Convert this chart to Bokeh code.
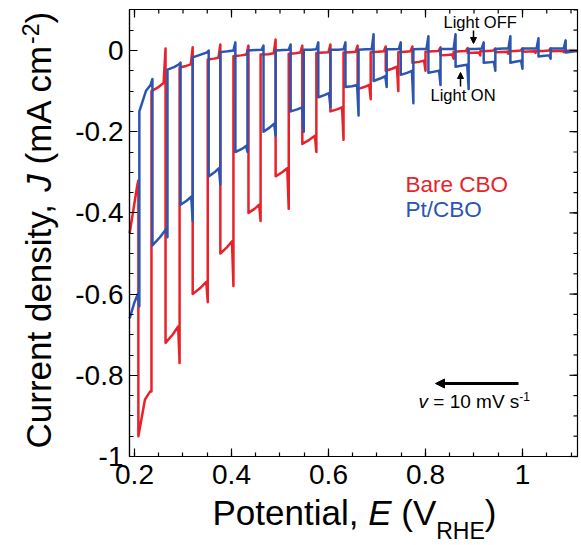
from math import pi
from bokeh.plotting import figure
from bokeh.models import (Range1d, LinearAxis, FixedTicker, Label, Arrow,
                          NormalHead, CustomJSTickFormatter)
from bokeh.embed import file_html
from bokeh.resources import INLINE

# ---------------- data ----------------
box_x = [0.1897, 1.1134]          # visible E range (V_RHE)
box_y = [-1.0, 0.101]             # visible J range (mA cm-2)
x_major = [0.2, 0.4, 0.6, 0.8, 1.0]
x_minor = [0.2, 0.25, 0.3, 0.35, 0.4, 0.45, 0.5, 0.55, 0.6, 0.65, 0.7, 0.75,
           0.8, 0.85, 0.9, 0.95, 1.0, 1.05, 1.1]
y_major = [-1.0, -0.8, -0.6, -0.4, -0.2, 0.0]
y_minor = [-1.0, -0.95, -0.9, -0.85, -0.8, -0.75, -0.7, -0.65, -0.6, -0.55,
           -0.5, -0.45, -0.4, -0.35, -0.3, -0.25, -0.2, -0.15, -0.1, -0.05,
           0.0, 0.05, 0.1]

# Bare CBO (red): chopped-light pulses (E in V_RHE, J in mA cm-2)
red_head_E = [0.190, 0.206]
red_head_J = [-0.45, -0.33]
red_E_left = [0.208, 0.264, 0.320, 0.377, 0.435, 0.491, 0.546, 0.604, 0.660,
              0.718, 0.773, 0.831, 0.887, 0.944, 1.000, 1.058]
red_E_right = [0.235, 0.293, 0.351, 0.404, 0.460, 0.518, 0.575, 0.631, 0.687,
               0.744, 0.800, 0.858, 0.913, 0.971, 1.027, 1.085]
red_J_over = [-0.32, 0.005, 0.008, 0.015, 0.012, 0.027, 0.012, 0.015, 0.012,
              0.010, 0.010, 0.008, 0.006, 0.005, 0.005, 0.005]
red_J_left = [-0.95, -0.72, -0.60, -0.50, -0.40, -0.31, -0.23, -0.15, -0.095,
              -0.050, -0.030, -0.012, -0.006, -0.004, -0.003, -0.002]
red_J_mid = [-0.86, -0.70, -0.585, -0.485, -0.39, -0.30, -0.22, -0.145, -0.09,
             -0.045, -0.028, -0.011, -0.0055, -0.0035, -0.0025, -0.0015]
red_J_right = [-0.84, -0.68, -0.57, -0.47, -0.38, -0.29, -0.21, -0.14, -0.085,
               -0.040, -0.025, -0.010, -0.005, -0.003, -0.002, -0.001]
red_J_spike = [-0.84, -0.77, -0.62, -0.58, -0.42, -0.39, -0.25, -0.22, -0.12,
               -0.10, -0.05, -0.02, -0.012, -0.008, -0.006, -0.004]
red_dark_lo = [-0.10, -0.042, -0.022, -0.014, -0.010, -0.008, -0.006, -0.005,
               -0.004, -0.004, -0.003, -0.003, -0.002, -0.002, -0.001, -0.001]
red_dark_mid = [-0.09, -0.038, -0.020, -0.012, -0.009, -0.007, -0.005, -0.004,
                -0.003, -0.003, -0.002, -0.002, -0.001, -0.001, -0.001, 0.0]
red_dark_hi = [-0.08, -0.034, -0.018, -0.010, -0.007, -0.005, -0.004, -0.003,
               -0.002, -0.002, -0.001, -0.001, 0.0, 0.0, 0.0, 0.0]

# Pt/CBO (blue)
blue_head_E = []
blue_head_J = []
blue_E_left = [0.190, 0.237, 0.295, 0.353, 0.408, 0.466, 0.522, 0.579, 0.635,
               0.693, 0.749, 0.806, 0.862, 0.920, 0.975, 1.033, 1.089]
blue_E_right = [0.210, 0.268, 0.320, 0.377, 0.433, 0.491, 0.549, 0.604, 0.662,
                0.720, 0.775, 0.831, 0.889, 0.944, 1.000, 1.058, 1.130]
blue_J_over = [-0.66, -0.07, -0.03, 0.0, 0.020, 0.012, 0.015, 0.020, 0.020,
               0.040, 0.020, 0.035, 0.040, 0.020, 0.035, 0.030, 0.025]
blue_J_left = [-0.66, -0.48, -0.38, -0.31, -0.25, -0.20, -0.15, -0.115, -0.090,
               -0.075, -0.060, -0.055, -0.040, -0.030, -0.030, -0.015, -0.005]
blue_J_mid = [-0.62, -0.46, -0.37, -0.30, -0.243, -0.19, -0.145, -0.11, -0.088,
              -0.069, -0.055, -0.052, -0.037, -0.029, -0.027, -0.013, -0.002]
blue_J_right = [-0.60, -0.44, -0.36, -0.29, -0.235, -0.18, -0.14, -0.105, -0.085,
                -0.063, -0.050, -0.050, -0.035, -0.028, -0.025, -0.012, 0.0]
blue_J_spike = [-0.63, -0.46, -0.42, -0.33, -0.25, -0.21, -0.20, -0.14, -0.16,
                -0.09, -0.13, -0.085, -0.095, -0.05, -0.045, -0.02, 0.0]
blue_dark_lo = [-0.15, -0.047, -0.017, -0.004, 0.0, 0.0, 0.002, 0.002, 0.002,
                0.003, 0.003, 0.004, 0.004, 0.004, 0.005, 0.005, 0.005]
blue_dark_mid = [-0.10, -0.041, -0.010, -0.002, 0.001, 0.001, 0.002, 0.002,
                 0.003, 0.003, 0.004, 0.004, 0.004, 0.005, 0.005, 0.005, 0.005]
blue_dark_hi = [-0.085, -0.035, -0.005, 0.0, 0.002, 0.002, 0.003, 0.003, 0.003,
                0.004, 0.004, 0.004, 0.005, 0.005, 0.005, 0.005, 0.005]

RED = "#E8222A"
BLUE = "#2C55B1"
FONT = "Liberation Sans"

# ---------------- layout (canvas pixels) ----------------
W, H = 581, 545
BOX_L, BOX_R, BOX_T, BOX_B = 129, 577, 9, 456
ux = (box_x[1] - box_x[0]) / (BOX_R - BOX_L)     # data units per pixel
uy = (box_y[1] - box_y[0]) / (BOX_B - BOX_T)
x_rng = (box_x[0] - BOX_L * ux, box_x[1] + (W - BOX_R) * ux)
y_rng = (box_y[0] - (H - BOX_B) * uy, box_y[1] + BOX_T * uy)


def chop_path(head_E, head_J, E_left, E_right, J_over, J_left, J_mid, J_right,
              J_spike, dark_lo, dark_mid, dark_hi, x_stop):
    xs, ys = list(head_E), list(head_J)
    n = len(E_left)
    for k in range(n):
        xs += [E_left[k], E_left[k]]
        ys += [J_over[k], J_left[k]]
        xs += [0.5 * (E_left[k] + E_right[k]), E_right[k] - 0.003,
               E_right[k], E_right[k]]
        ys += [J_mid[k], J_right[k], J_spike[k], dark_lo[k]]
        nxt = E_left[k + 1] if k + 1 < n else x_stop
        end = nxt - 0.004 if k + 1 < n else x_stop
        xs += [0.5 * (E_right[k] + nxt), end]
        ys += [dark_mid[k], dark_hi[k]]
    return xs, ys


def clip_right(xs, ys, xmax):
    ox, oy = [xs[0]], [ys[0]]
    for i in range(1, len(xs)):
        if xs[i] <= xmax:
            ox.append(xs[i])
            oy.append(ys[i])
        else:
            x0, y0 = xs[i - 1], ys[i - 1]
            t = (xmax - x0) / (xs[i] - x0)
            ox.append(xmax)
            oy.append(y0 + t * (ys[i] - y0))
            break
    return ox, oy


p = figure(width=W, height=H, output_backend="svg", toolbar_location=None,
           x_range=Range1d(*x_rng), y_range=Range1d(*y_rng),
           x_axis_location=None, y_axis_location=None,
           min_border=0, min_border_left=0, min_border_right=0,
           min_border_top=0, min_border_bottom=0)
p.grid.visible = False
p.outline_line_color = None
p.background_fill_color = "white"
p.border_fill_color = "white"

rx, ry = chop_path(red_head_E, red_head_J, red_E_left, red_E_right, red_J_over,
                   red_J_left, red_J_mid, red_J_right, red_J_spike,
                   red_dark_lo, red_dark_mid, red_dark_hi, box_x[1])
bx, by = chop_path(blue_head_E, blue_head_J, blue_E_left, blue_E_right,
                   blue_J_over, blue_J_left, blue_J_mid, blue_J_right,
                   blue_J_spike, blue_dark_lo, blue_dark_mid, blue_dark_hi, 1.14)
rx, ry = clip_right(rx, ry, box_x[1])
bx, by = clip_right(bx, by, box_x[1])
p.line(rx, ry, line_color=RED, line_width=2.5, line_join="round")
p.line(bx, by, line_color=BLUE, line_width=2.5, line_join="round")

# plot box
p.quad(left=[box_x[0]], right=[box_x[1]], bottom=[box_y[0]], top=[box_y[1]],
       fill_color=None, line_color="black", line_width=1.2)

fmt = CustomJSTickFormatter(code="return tick.toFixed(1).replace(/\\.0$/, '');")


def style_axis(ax, major, minor, standoff):
    ax.ticker = FixedTicker(ticks=major, minor_ticks=minor)
    ax.major_tick_in = 8
    ax.major_tick_out = 0
    ax.minor_tick_in = 4
    ax.minor_tick_out = 0
    ax.axis_line_color = "black"
    ax.axis_line_width = 1.2
    ax.major_tick_line_width = 1.2
    ax.minor_tick_line_width = 1.2
    ax.major_tick_line_color = "black"
    ax.minor_tick_line_color = "black"
    ax.formatter = fmt
    ax.major_label_text_font = FONT
    ax.major_label_text_font_size = "28px"
    ax.major_label_text_color = "black"
    ax.major_label_standoff = standoff


xa = LinearAxis(fixed_location=box_y[0], bounds=tuple(box_x))
ya = LinearAxis(fixed_location=box_x[0], bounds=tuple(box_y))
style_axis(xa, x_major, x_minor, 8)
style_axis(ya, y_major, y_minor, 6)
p.add_layout(xa, "below")
p.add_layout(ya, "left")

# mirrored inward ticks on top and right edges
top_x = x_minor + x_major
top_len = [4 * uy] * len(x_minor) + [8 * uy] * len(x_major)
p.segment(x0=top_x, x1=top_x, y0=[box_y[1]] * len(top_x),
          y1=[box_y[1] - d for d in top_len], line_color="black", line_width=1.2)
right_y = y_minor + y_major
right_len = [4 * ux] * len(y_minor) + [8 * ux] * len(y_major)
p.segment(x0=[box_x[1]] * len(right_y), x1=[box_x[1] - d for d in right_len],
          y0=right_y, y1=right_y, line_color="black", line_width=1.2)

K = 0.33  # empirical baseline correction (fraction of font size)


def lab(text, fx, fy, size, color="black", style="normal", angle=0.0):
    if angle == 0.0:
        fy = fy + K * size
    else:
        fx = fx - K * size
    p.add_layout(Label(x=fx, y=fy, x_units="screen", y_units="screen",
                       text=text, text_font=FONT, text_font_size=f"{size}px",
                       text_color=color, text_font_style=style, angle=angle,
                       text_align="left", text_baseline="alphabetic"))


SP = 0.278  # width of a space, em
AX = 35
SUB = 23
# x axis label: Potential, E (V_RHE)
fy0 = 21
x0 = 212
lab("Potential,", x0, fy0, AX)
x1 = x0 + 4.447 * AX
lab("E", x1, fy0, AX, style="italic")
x2 = x1 + (0.667 + SP) * AX
lab("(V", x2, fy0, AX)
x3 = x2 + 1.0 * AX
lab("RHE", x3, fy0 - 14, SUB)
x4 = x3 + 2.111 * SUB
lab(")", x4, fy0, AX)

# y axis label: Current density, J (mA cm-2)
bx0 = 50
y0 = 97
lab("Current density,", bx0, y0, AX, angle=pi / 2)
y1 = y0 + 7.336 * AX
lab("J", bx0, y1, AX, style="italic", angle=pi / 2)
y2 = y1 + (0.5 + SP) * AX
lab("(mA cm", bx0, y2, AX, angle=pi / 2)
y3 = y2 + 3.444 * AX
lab("-2", bx0 - 12, y3, SUB, angle=pi / 2)
y4 = y3 + 0.889 * SUB
lab(")", bx0, y4, AX, angle=pi / 2)

# legend texts
lab("Bare CBO", 405, 354, 22.5, color=RED)
lab("Pt/CBO", 405, 329, 22.5, color=BLUE)

# light annotations
lab("Light OFF", 443, 518, 16.5)
lab("Light ON", 430, 445, 16.5)
p.add_layout(Arrow(end=NormalHead(size=6, fill_color="black", line_color="black"),
                   x_start=473, y_start=515, x_end=473, y_end=502,
                   start_units="screen", end_units="screen",
                   line_color="black", line_width=1.5))
p.add_layout(Arrow(end=NormalHead(size=6, fill_color="black", line_color="black"),
                   x_start=460, y_start=459, x_end=460, y_end=473,
                   start_units="screen", end_units="screen",
                   line_color="black", line_width=1.5))

# scan-rate annotation
p.add_layout(Arrow(end=NormalHead(size=9, fill_color="black", line_color="black"),
                   x_start=518, y_start=162, x_end=435, y_end=162,
                   start_units="screen", end_units="screen",
                   line_color="black", line_width=3))
VS = 19
lab("v", 418, 138, VS, style="italic")
lab("= 10 mV s", 418 + (0.5 + SP) * VS, 138, VS)
lab("-1", 418 + 5.308 * VS, 145, 12)

open("out.html", "w").write(file_html(p, INLINE))
